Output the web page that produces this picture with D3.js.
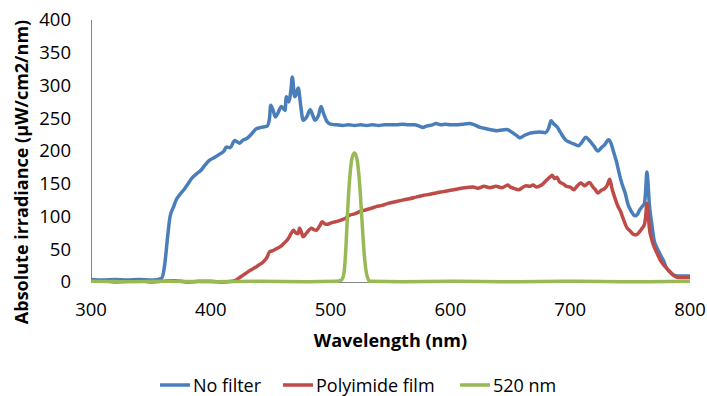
<!DOCTYPE html>
<html lang="en">
<head>
<meta charset="UTF-8">
<title>Absolute irradiance</title>
<script src="https://d3js.org/d3.v7.min.js"></script>
<style>
html,body{margin:0;padding:0;background:#fff}
svg{display:block}
.tick-label{font-family:"Open Sans",sans-serif;font-size:18.5px;fill:#000}
.axis-title{font-family:"Open Sans",sans-serif;font-size:18px;font-weight:700;fill:#000}
.legend-text{font-family:"Open Sans",sans-serif;font-size:18px;fill:#000}
</style>
</head>
<body>
<svg id="chart" width="707" height="396"></svg>
<script>
// spectra (wavelength nm, irradiance µW/cm2/nm)
const blueNm = [300,310,320,330,340,350,356,359,361,362,364,366,369,371,374,378,381,384,388,392,395,399,403,408,411,413,416,420,422,424,427,430,434,438,442,447,449,450,452,454,456,459,462,463,465,467,468,470,471,473,475,477,480,483,485,487,490,492,494,497,500,505,510,515,520,525,530,535,540,545,550,555,560,565,570,574,577,580,585,588,592,596,600,605,610,616,620,625,630,635,639,643,647,651,655,658,662,666,669,674,679,682,684,686,689,692,696,700,704,707,710,713,716,720,723,726,729,732,734,736,739,741,743,746,748,751,754,756,758,760,762,763,764,765,766,768,770,773,776,778,780,783,786,790,795,800];
const blueVal = [4,3,4,3,4,3,4,6,20,34,70,100,115,125,133,142,150,158,165,171,178,186,190,196,200,206,205,216,214,212,217,219,226,234,236,238,250,270,262,252,258,268,262,283,275,295,313,283,285,296,270,247,252,263,255,247,255,268,258,245,241,240,239,240,239,240,239,240,239,240,240,240,241,240,240,238,236,238,240,242,240,241,240,240,241,242,240,236,234,232,231,232,233,229,224,220,224,227,228,229,228,235,246,242,237,228,217,213,210,208,214,221,216,207,200,205,210,217,212,200,181,165,151,135,120,108,101,103,110,115,120,140,168,150,120,90,64,50,39,32,23,16,11,9,9,9];

const redNm = [300,310,320,330,340,350,360,370,380,390,400,410,418,421,425,429,433,437,440,444,447,449,452,455,458,461,465,467,469,471,473,474,476,477,480,484,486,488,491,493,495,497,500,504,508,512,516,520,525,529,533,538,543,548,555,560,566,572,577,583,588,594,600,606,612,619,623,628,633,638,643,648,650,653,657,660,663,666,669,672,676,680,683,685,687,689,691,694,697,700,703,706,709,712,716,719,721,723,726,729,731,733,735,737,740,742,744,747,750,752,754,756,758,760,762,763,764,765,766,768,770,773,775,778,781,784,787,790,795,800];
const redVal = [1,2,0,1,2,0,1,2,0,1,1,0,1,3,8,13,18,22,26,31,38,46,48,51,54,59,67,74,79,75,74,82,74,69,75,82,80,79,86,92,89,88,90,92,94,97,102,104,108,110,112,115,117,120,123,125,127,130,132,134,136,138,140,142,144,145,143,146,144,146,144,148,145,143,141,144,147,146,148,145,148,155,160,163,158,160,153,150,146,145,141,147,151,147,152,145,141,136,140,143,148,157,142,130,115,108,98,84,78,74,72,73,77,82,88,100,120,108,84,65,54,42,34,26,20,14,9,7,7,7];

const greenNm = [300,330,360,400,440,480,505,509,511,513,514,516,518,520,522,524,526,527,529,531,533,560,600,650,700,750,800];
const greenVal = [1,0.5,1,0.5,1,0.5,1,3,12,60,100,160,190,197,188,155,100,70,25,6,1,0.5,1,0.5,1,0.5,1];

const seriesNames = ['No filter','Polyimide film','520 nm'];
const seriesColors = ['#4a7ebb','#be4b48','#98b954'];
const xTicks = [300,400,500,600,700,800];
const yTicks = [0,50,100,150,200,250,300,350,400];

const svg = d3.select('#chart');
const plotLeft = 91, plotRight = 690, plotTop = 20, plotBottom = 282;

const x = d3.scaleLinear().domain([300,800]).range([plotLeft,plotRight]);
const y = d3.scaleLinear().domain([0,400]).range([plotBottom,plotTop]);

// axis lines
svg.append('line').attr('x1',plotLeft+0.5).attr('x2',plotLeft+0.5).attr('y1',plotTop).attr('y2',plotBottom)
  .attr('stroke','#868686').attr('stroke-width',1);
svg.append('line').attr('x1',plotLeft).attr('x2',plotRight).attr('y1',plotBottom+0.5).attr('y2',plotBottom+0.5)
  .attr('stroke','#868686').attr('stroke-width',1);

// tick labels
svg.selectAll('.ytl').data(yTicks).join('text')
  .attr('class','tick-label').attr('x',71).attr('y',d => y(d))
  .attr('dy','0.35em').attr('text-anchor','end').text(d => d);
svg.selectAll('.xtl').data(xTicks).join('text')
  .attr('class','tick-label').attr('x',d => x(d)).attr('y',310)
  .attr('dy','0.35em').attr('text-anchor','middle').text(d => d);

// axis titles
svg.append('text').attr('class','axis-title')
  .attr('transform','translate(22,172) rotate(-90)')
  .attr('text-anchor','middle').attr('dy','0.35em')
  .text('Absolute irradiance (µW/cm2/nm)');
svg.append('text').attr('class','axis-title')
  .attr('x',(plotLeft+plotRight)/2).attr('y',341).attr('dy','0.35em')
  .attr('text-anchor','middle').text('Wavelength (nm)');

// series
const line = d3.line().x(d => x(d[0])).y(d => y(d[1])).curve(d3.curveMonotoneX);
const series = [
  d3.zip(blueNm, blueVal),
  d3.zip(redNm, redVal),
  d3.zip(greenNm, greenVal)
];
series.forEach(function(s, i) {
  svg.append('path').datum(s)
    .attr('d', line)
    .attr('fill','none')
    .attr('stroke', seriesColors[i])
    .attr('stroke-width', 3.5)
    .attr('stroke-linejoin','round');
});

// legend
const legendX = [160, 283, 460];
const lg = svg.selectAll('.lg').data(seriesNames).join('g')
  .attr('transform',(d,i) => 'translate(' + legendX[i] + ',385)');
lg.append('line').attr('x1',0).attr('x2',30).attr('y1',0).attr('y2',0)
  .attr('stroke',(d,i) => seriesColors[i]).attr('stroke-width',3.5);
lg.append('text').attr('class','legend-text').attr('x',33).attr('y',1)
  .attr('dy','0.35em').text(d => d);
</script>
</body>
</html>
